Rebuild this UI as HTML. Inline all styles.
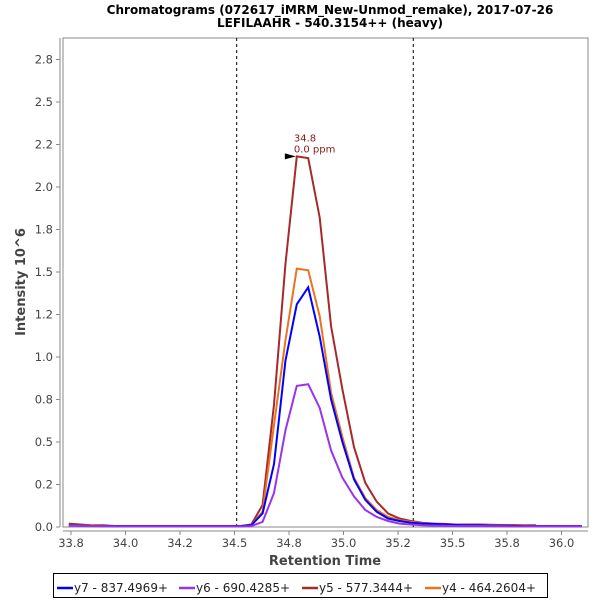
<!DOCTYPE html>
<html><head><meta charset="utf-8"><style>
body{margin:0;background:#fff;}
svg{display:block;font-family:"DejaVu Sans","Liberation Sans",sans-serif;}
</style></head><body>
<svg id="chart" width="600" height="600">
<text x="330" y="14" text-anchor="middle" font-size="12" font-weight="bold">Chromatograms (072617_iMRM_New-Unmod_remake), 2017-07-26</text>
<text x="330" y="27" text-anchor="middle" font-size="12" font-weight="bold">LEFILAAHR - 540.3154++ (heavy)</text>
<rect x="63" y="38" width="525" height="489" fill="#fff" stroke="#888"/>
<g id="axes"></g>
<g id="series"></g>
<text x="325" y="565" text-anchor="middle" font-size="13" font-weight="bold" fill="#444">Retention Time</text>
<text transform="translate(25,282) rotate(-90)" text-anchor="middle" font-size="13" font-weight="bold" fill="#444">Intensity 10^6</text>
<g>
<rect x="53.5" y="573.5" width="494" height="24" fill="#fff" stroke="#000"/>
<g id="legend"></g>
</g>
</svg>
<script>
const times=[33.740,33.792,33.845,33.897,33.949,34.002,34.054,34.106,34.158,34.211,34.263,34.315,34.368,34.420,34.472,34.525,34.577,34.629,34.681,34.734,34.786,34.838,34.891,34.943,34.995,35.048,35.100,35.152,35.204,35.257,35.309,35.361,35.414,35.466,35.518,35.570,35.623,35.675,35.727,35.780,35.832,35.884,35.937,35.989,36.041,36.093];
const y7=[0.01,0.008,0.006,0.005,0.005,0.005,0.005,0.005,0.005,0.005,0.005,0.005,0.005,0.005,0.005,0.005,0.01,0.08,0.37,0.98,1.31,1.41,1.12,0.75,0.50,0.28,0.16,0.09,0.05,0.035,0.025,0.02,0.018,0.015,0.012,0.01,0.01,0.008,0.007,0.006,0.005,0.005,0.005,0.005,0.005,0.005];
const y6=[0.008,0.006,0.005,0.004,0.003,0.003,0.003,0.003,0.003,0.003,0.003,0.003,0.003,0.003,0.003,0.003,0.005,0.03,0.20,0.57,0.83,0.84,0.70,0.45,0.29,0.18,0.10,0.06,0.035,0.02,0.015,0.01,0.008,0.007,0.006,0.005,0.005,0.004,0.004,0.003,0.003,0.003,0.003,0.003,0.003,0.003];
const y5=[0.02,0.015,0.01,0.01,0.006,0.005,0.005,0.005,0.005,0.005,0.005,0.005,0.005,0.005,0.005,0.005,0.015,0.13,0.72,1.55,2.18,2.17,1.82,1.18,0.81,0.47,0.26,0.15,0.08,0.05,0.035,0.025,0.02,0.018,0.015,0.015,0.015,0.013,0.012,0.012,0.01,0.01];
const y4=[0.012,0.01,0.008,0.006,0.005,0.005,0.005,0.005,0.005,0.005,0.005,0.005,0.005,0.005,0.005,0.005,0.01,0.09,0.60,1.10,1.52,1.51,1.24,0.79,0.53,0.29,0.17,0.10,0.06,0.04,0.03,0.022,0.018,0.015,0.013,0.012,0.01,0.01,0.009,0.008,0.007,0.006,0.006,0.005,0.005,0.005];
const xTicks=[33.75,34.0,34.25,34.5,34.75,35.0,35.25,35.5,35.75,36.0];
const xTickLabels=["33.8","34.0","34.2","34.5","34.8","35.0","35.2","35.5","35.8","36.0"];
const yTicks=[0,0.25,0.5,0.75,1.0,1.25,1.5,1.75,2.0,2.25,2.5,2.75];
const yTickLabels=["0.0","0.2","0.5","0.8","1.0","1.2","1.5","1.8","2.0","2.2","2.5","2.8"];
const boundaries=[34.51,35.32];
const peakTime=34.786, peakValue=2.18;
const ns="http://www.w3.org/2000/svg";
const X=t=>71+(t-33.75)*218;
const Y=v=>527-v*170;
function mk(tag,attrs,parent){const e=document.createElementNS(ns,tag);for(const k in attrs)e.setAttribute(k,attrs[k]);parent.appendChild(e);return e;}
const axes=document.getElementById('axes');
const ax=mk('line',{x1:60,y1:38,x2:60,y2:527,stroke:'#888'},axes);


const bx=mk('line',{x1:63,y1:531,x2:588,y2:531,stroke:'#888'},axes);


yTicks.forEach((v,i)=>{
  mk('line',{x1:56,x2:60,y1:Y(v),y2:Y(v),stroke:'#888'},axes);
  const t=mk('text',{x:53,y:Y(v)+4,'text-anchor':'end','font-size':11.5,fill:'#444'},axes);
  t.textContent=yTickLabels[i];
  
  
});
xTicks.forEach((v,i)=>{
  mk('line',{x1:X(v),x2:X(v),y1:531,y2:535,stroke:'#888'},axes);
  const t=mk('text',{x:X(v),y:547,'text-anchor':'middle','font-size':11.5,fill:'#444'},axes);
  t.textContent=xTickLabels[i];
  
  
});
const g=document.getElementById('series');
boundaries.forEach(b=>{
  const l=mk('line',{x1:X(b),x2:X(b),y1:38,y2:527,stroke:'#000','stroke-dasharray':'3,3'},g);
  
  
});
const series=[[y7,'#0000ff','y7 - 837.4969+','series-y7'],[y6,'#9933ee','y6 - 690.4285+','series-y6'],[y5,'#a52a2a','y5 - 577.3444+','series-y5'],[y4,'#e8741f','y4 - 464.2604+','series-y4']];
const order=[2,3,0,1];
order.forEach(si=>{
  const [vals,col,,nm]=series[si];
  const pts=vals.map((v,i)=>X(times[i]).toFixed(1)+','+Y(v).toFixed(1)).join(' ');
  const p=mk('polyline',{points:pts,fill:'none',stroke:col,'stroke-width':2,'stroke-linejoin':'miter'},g);
  
  
});
const px=X(peakTime), py=Y(peakValue);
const arr=mk('polygon',{points:`${px-1},${py} ${px-12},${py-3} ${px-12},${py+3}`,fill:'#000'},g);


const a1=mk('text',{x:px-3,y:py-15,'font-size':10,fill:'#8b1a1a'},g);
a1.textContent=peakTime.toFixed(1);


const a2=mk('text',{x:px-3,y:py-4,'font-size':10,fill:'#8b1a1a'},g);
a2.textContent='0.0 ppm';


const lg=document.getElementById('legend');
const lx=[57,179,302,425];
series.forEach((s,i)=>{
  const e=mk('g',{},lg);
  
  
  mk('line',{x1:lx[i],x2:lx[i]+16,y1:588,y2:588,stroke:s[1],'stroke-width':2.5},e);
  const t=mk('text',{x:lx[i]+17,y:592,'font-size':12,fill:'#222'},e);
  t.textContent=s[2];
});
</script>
</body></html>
